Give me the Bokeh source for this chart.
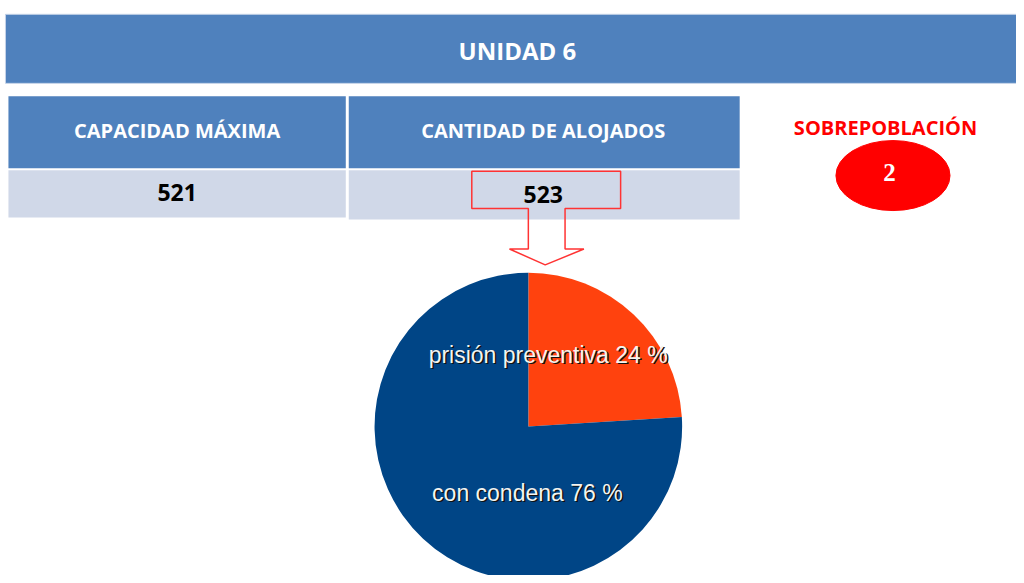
from bokeh.plotting import figure
from bokeh.models import Range1d, ColumnDataSource
from bokeh.core.properties import value
from bokeh.embed import file_html
from bokeh.resources import INLINE
import numpy as np

# ---- data ----
title = "UNIDAD 6"
table_headers = ["CAPACIDAD MÁXIMA", "CANTIDAD DE ALOJADOS"]
table_values = ["521", "523"]
over_label = "SOBREPOBLACIÓN"
over_value = "2"
pie_labels = ["prisión preventiva", "con condena"]
pie_values = [24, 76]
pie_colors = ["#FF420E", "#004586"]

W, H = 1016, 575
def Y(py):
    return 583 - py

p = figure(width=W, height=H, x_range=Range1d(0, 1024), y_range=Range1d(0, 583),
           output_backend="svg", toolbar_location=None, min_border=0)
p.axis.visible = False
p.grid.visible = False
p.outline_line_color = None
p.background_fill_color = "white"
p.border_fill_color = "white"

BLUE = "#4F81BD"
LIGHT = "#D0D8E8"
FONT_B = value("Open Sans")

# header band
p.quad(left=[5], right=[1024], top=[Y(14)], bottom=[Y(84)], fill_color=BLUE, line_color="#C6D4E8", line_width=1)
p.text(x=[521], y=[Y(51)], text=[title], text_font=FONT_B, text_font_style="bold",
       text_font_size="24px", text_color="white", text_align="center", text_baseline="middle")

# table
col_l = [8, 351]
col_r = [348, 745]
p.quad(left=col_l, right=col_r, top=[Y(97)] * 2, bottom=[Y(170)] * 2, fill_color=BLUE, line_color=None)
p.quad(left=col_l, right=col_r, top=[Y(172)] * 2, bottom=[Y(220), Y(222)], fill_color=LIGHT, line_color=None)
cx = [178, 547]
p.text(x=cx, y=[Y(132)] * 2, text=table_headers, text_font=FONT_B, text_font_style="bold",
       text_font_size="20px", text_color="white", text_align="center", text_baseline="middle")
p.text(x=cx, y=[Y(195), Y(197)], text=table_values, text_font=FONT_B, text_font_style="bold",
       text_font_size="23px", text_color="black", text_align="center", text_baseline="middle")

# callout arrow
px = [475, 625, 625, 569, 569, 588, 549, 513, 532, 532, 475, 475]
py = [173, 173, 211, 211, 252, 252, 268, 252, 252, 211, 211, 173]
p.patch(x=px, y=[Y(v) for v in py], fill_alpha=0, line_color="#FF3333", line_width=1.5)

# overpopulation
p.text(x=[892], y=[Y(129)], text=[over_label], text_font=FONT_B, text_font_style="bold",
       text_font_size="20px", text_color="#FF0000", text_align="center", text_baseline="middle")
p.ellipse(x=[899.5], y=[Y(177.5)], width=115, height=71, fill_color="#FF0000", line_color="#FF0000")
p.text(x=[896], y=[Y(174)], text=[over_value], text_font=value("Liberation Serif"), text_font_style="bold",
       text_font_size="25px", text_color="white", text_align="center", text_baseline="middle")

# pie
vals = np.array(pie_values, dtype=float)
frac = vals / vals.sum()
cum = np.concatenate([[0], np.cumsum(frac)])
start = np.pi / 2 - cum[:-1] * 2 * np.pi
end = np.pi / 2 - cum[1:] * 2 * np.pi
src = ColumnDataSource(dict(start=start, end=end, color=pie_colors))
p.wedge(x=532, y=Y(432), radius=155, start_angle="start", end_angle="end", direction="clock",
        fill_color="color", line_color=None, source=src)

labels = [f"{l} {v} %" for l, v in zip(pie_labels, pie_values)]
lx = [552, 531]
ly = [Y(359), Y(499)]
p.text(x=[v + 1.5 for v in lx], y=[v - 1.5 for v in ly], text=labels, text_font=value("Liberation Sans"),
       text_font_size="23px", text_color="#111111", text_align="center", text_baseline="middle")
p.text(x=lx, y=ly, text=labels, text_font=value("Liberation Sans"),
       text_font_size="23px", text_color="#F4F4F0", text_align="center", text_baseline="middle")

open("out.html", "w").write(file_html(p, INLINE))
